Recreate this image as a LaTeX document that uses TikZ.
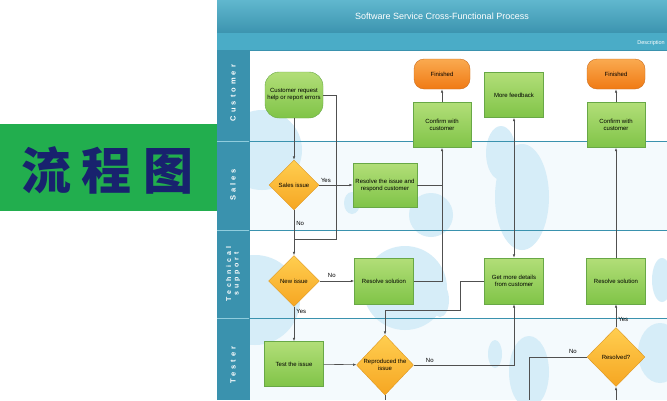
\documentclass[tikz,border=0pt]{standalone}
\usepackage{fontspec}
\setmainfont{Liberation Sans}
\newfontfamily\cjk{Noto Sans CJK SC}
\newfontfamily\lanefont[LetterSpace=40]{Liberation Sans}
\usetikzlibrary{shapes.geometric,arrows.meta}

\definecolor{banner}{RGB}{34,174,78}
\definecolor{bannertext}{RGB}{24,34,110}
\definecolor{lanecol}{RGB}{58,146,174}
\definecolor{titletop}{RGB}{96,183,206}
\definecolor{titlebot}{RGB}{60,148,175}
\definecolor{descbar}{RGB}{74,172,199}
\definecolor{bubble}{RGB}{214,237,248}
\definecolor{tintlane}{RGB}{244,250,253}
\definecolor{boxtop}{RGB}{178,222,120}
\definecolor{boxbot}{RGB}{128,196,72}
\definecolor{boxline}{RGB}{104,168,70}
\definecolor{endtop}{RGB}{250,170,80}
\definecolor{endbot}{RGB}{240,122,20}
\definecolor{endline}{RGB}{205,110,30}
\definecolor{dectop}{RGB}{255,206,80}
\definecolor{decbot}{RGB}{246,166,34}
\definecolor{decline}{RGB}{222,150,30}
\definecolor{flowline}{RGB}{80,80,80}

\begin{document}
\begin{tikzpicture}[x=1pt, y=-1pt, every node/.style={font=\fontsize{6}{7}\selectfont, align=center, inner sep=1pt}, taskbox/.style={draw=boxline, top color=boxtop, bottom color=boxbot, minimum width=59, minimum height=45}, endbox/.style={draw=endline, top color=endtop, bottom color=endbot, rounded corners=10pt, minimum width=56, minimum height=30}, decision/.style={diamond, draw=decline, top color=dectop, bottom color=decbot, inner sep=0pt, minimum width=51, minimum height=51}, line/.style={draw=flowline, line width=0.6pt}, flow/.style={line, -{Latex[length=3.5pt,width=2.5pt]}}, lanelabel/.style={text=white, rotate=90, font=\lanefont\bfseries\fontsize{7.5}{8}\selectfont}, answer/.style={font=\fontsize{6}{6.5}\selectfont}]

\useasboundingbox (0,0) rectangle (667,400);
\fill[white] (0,0) rectangle (667,400);

% banner on the left
\fill[banner] (0,124) rectangle (217,211);
\node[text=bannertext, font=\cjk\bfseries\fontsize{50}{54}\selectfont] (banner) at (107,170) {流\hspace{10pt}程\hspace{12pt}图};

% header
\shade[top color=titletop, bottom color=titlebot] (217,0) rectangle (667,33);
\node[text=white, font=\fontsize{9}{10}\selectfont] (title) at (442,16) {Software Service Cross-Functional Process};
\fill[descbar] (217,33) rectangle (667,50);
\node[text=white, font=\fontsize{5.5}{6}\selectfont, anchor=east] (desc) at (666,43) {Description};

% lanes
\fill[tintlane] (249,141) rectangle (667,230);
\fill[tintlane] (249,318) rectangle (667,400);
\begin{scope}
\clip (249,50) rectangle (667,400);
\fill[bubble] (262,150) circle (40);
\fill[bubble] (255,300) circle (45);
\fill[bubble] (405,288) circle (42);
\fill[bubble] (431,215) circle (22);
\fill[bubble] (352,203) ellipse (8 and 11);
\fill[bubble] (501,153) ellipse (15 and 27);
\fill[bubble] (522,197) ellipse (27 and 53);
\fill[bubble] (440,300) ellipse (9 and 17);
\fill[bubble] (495,354) ellipse (7 and 14);
\fill[bubble] (529,372) ellipse (20 and 36);
\fill[bubble] (660,353) ellipse (22 and 30);
\fill[bubble] (662,280) ellipse (10 and 22);
\end{scope}
\fill[lanecol] (217,50) rectangle (249,400);
\foreach \y in {141,230,318} {
  \draw[lanecol, line width=0.9pt] (249,\y) -- (667,\y);
  \draw[titletop!70!white, line width=0.5pt] (217,\y) -- (249,\y);
}
\draw[lanecol, line width=0.9pt] (249,50) -- (667,50);
\draw[lanecol, line width=0.9pt] (249,50) -- (249,400);
\node[lanelabel] (lcustomer) at (233,93) {Customer};
\node[lanelabel] (lsales) at (233,185) {Sales};
\node[lanelabel, align=center, font=\lanefont\bfseries\fontsize{7}{7.5}\selectfont] (ltech) at (233,274) {Technical\\support};
\node[lanelabel] (ltester) at (233,365) {Tester};

% steps
\node[taskbox, rounded corners=14pt, minimum width=58, minimum height=46] (request) at (294,95) {Customer request\\help or report errors};
\node[endbox] (finishedA) at (442,74) {Finished};
\node[taskbox, minimum width=58] (confirmA) at (442,125) {Confirm with\\customer};
\node[taskbox] (feedback) at (514,95) {More feedback};
\node[endbox, minimum width=58] (finishedB) at (616,74) {Finished};
\node[taskbox, minimum width=58] (confirmB) at (616,125) {Confirm with\\customer};
\node[decision, minimum width=50, minimum height=50] (salesissue) at (294,185) {Sales issue};
\node[taskbox, minimum width=64, minimum height=44] (resolveissue) at (385,185) {Resolve the issue and\\respond customer};
\node[decision] (newissue) at (294,281) {New issue};
\node[taskbox, minimum height=46] (resolveA) at (384,281) {Resolve solution};
\node[taskbox, minimum height=46] (details) at (514,281) {Get more details\\from customer};
\node[taskbox, minimum height=46] (resolveB) at (616,281) {Resolve solution};
\node[taskbox] (testissue) at (294,364) {Test the issue};
\node[decision, minimum width=57, minimum height=60] (reproduced) at (385,365) {Reproduced the\\issue};
\node[decision, minimum width=58, minimum height=59] (resolved) at (616,357) {Resolved?};

\coordinate (bend1) at (336,239);
\coordinate (join1) at (294,239);
\coordinate (bend2) at (460,310);
\coordinate (outA) at (529,400);
\coordinate (inA) at (616,400);
\coordinate (outB) at (385,400);

% connectors
\draw[flow] (request) -- (salesissue);
\draw[line] (request.east) -| (bend1) -- (join1);
\draw[flow] (salesissue) -- node[answer, pos=0.3, right=1pt] {No} (newissue);
\draw[flow] (salesissue) -- node[answer, pos=0.2, above=1pt] {Yes} (resolveissue);
\draw[line] (resolveissue.east) -- (resolveissue.east -| confirmA);
\draw[flow] (resolveA.east) -| (confirmA.south);
\draw[flow] (confirmA) -- (finishedA);
\draw[flow] (newissue) -- node[answer, pos=0.35, above=2pt] {No} (resolveA);
\draw[flow] (newissue) -- node[answer, pos=0.15, right=1pt] {Yes} (testissue);
\draw[flow] (testissue) -- (reproduced);
\draw[flow] (reproduced.east) -| node[answer, pos=0.08, above=1pt] {No} (details.south);
\draw[flow] (details.west) -| (bend2) -| (reproduced.north);
\draw[flow, {Latex[length=3.5pt,width=2.5pt]}-{Latex[length=3.5pt,width=2.5pt]}] (feedback) -- (details);
\draw[flow] (resolveB) -- (confirmB);
\draw[flow] (confirmB) -- (finishedB);
\draw[flow] (resolved) -- node[answer, pos=0.35, right=1pt] {Yes} (resolveB);
\draw[line] (resolved.west) -| node[answer, pos=0.12, above=2pt] {No} (outA);
\draw[flow] (inA) -- (resolved.south);
\draw[line] (reproduced.south) -- (outB);
\end{tikzpicture}
\end{document}
